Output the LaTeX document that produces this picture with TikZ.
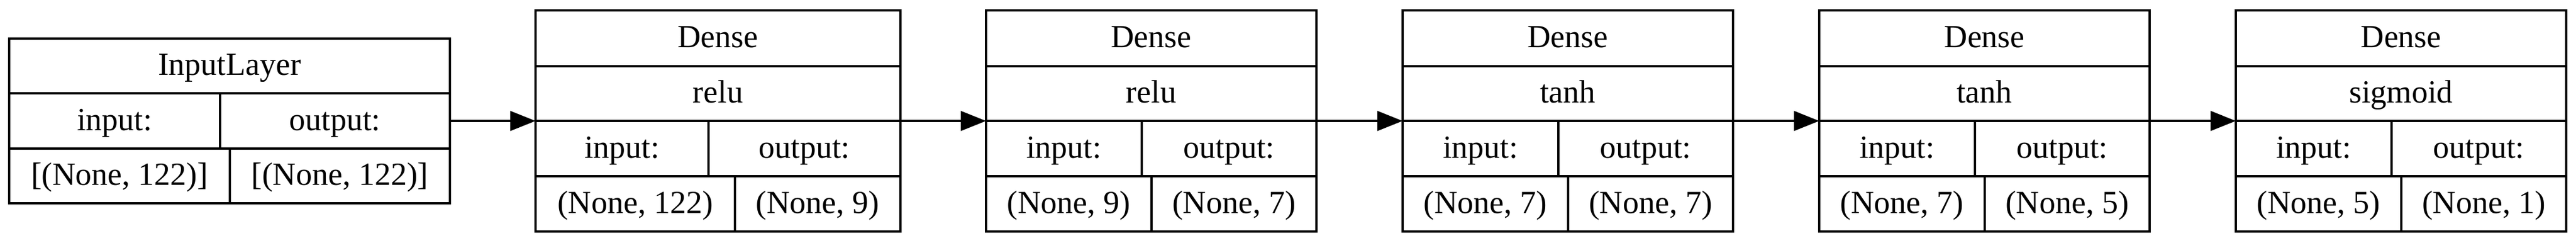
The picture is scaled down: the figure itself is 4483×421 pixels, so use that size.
\documentclass[tikz,border=0pt]{standalone}
\usepackage{fontspec}
\setmainfont{Liberation Serif}
\usetikzlibrary{arrows.meta}
\tikzset{
  x=0.25pt, y=-0.25pt,
  frame/.style={draw=black, line width=1pt, inner sep=0pt, outer sep=0pt, rectangle},
  sepline/.style={draw=black, line width=1pt},
  lbl/.style={anchor=base, inner sep=0pt, font=\fontsize{14pt}{16pt}\selectfont},
  conn/.style={draw=black, line width=1pt, -{Triangle[length=11pt,width=8.5pt]}},
}
\newcommand\mydenselayer[8]{%
  \pgfmathsetmacro\mycx{(#2+#3)/2}%
  \pgfmathsetmacro\mywd{(#3-#2)*0.25}%
  \pgfmathsetmacro\myci{(#2+#4)/2}%
  \pgfmathsetmacro\myco{(#4+#3)/2}%
  \pgfmathsetmacro\myvi{(#2+#5)/2}%
  \pgfmathsetmacro\myvo{(#5+#3)/2}%
  \node[frame, minimum width=\mywd pt, minimum height=96pt] (#1) at (\mycx,210) {};
  \draw[sepline] (#2,115) -- (#3,115) (#2,210) -- (#3,210) (#2,306) -- (#3,306)
    (#4,210) -- (#4,306) (#5,306) -- (#5,402);
  \node[lbl] (#1-type) at (\mycx,82.5) {Dense};
  \node[lbl] (#1-act) at (\mycx,178.5) {#6};
  \node[lbl] (#1-inl) at (\myci,274) {input:};
  \node[lbl] (#1-outl) at (\myco,274) {output:};
  \node[lbl] (#1-inv) at (\myvi,370) {#7};
  \node[lbl] (#1-outv) at (\myvo,370) {#8};
}
\begin{document}
\begin{tikzpicture}
\useasboundingbox (0,0) rectangle (4483,421);
% Input layer
\node[frame, minimum width=191.75pt, minimum height=71.5pt] (inp) at (399.5,210) {};
\draw[sepline] (16,162) -- (783,162) (16,258) -- (783,258)
  (383,162) -- (383,258) (400,258) -- (400,353);
\node[lbl] (inp-type) at (399.5,130.5) {InputLayer};
\node[lbl] (inp-inl) at (199.5,226) {input:};
\node[lbl] (inp-outl) at (583,226) {output:};
\node[lbl] (inp-inv) at (208,321.5) {[(None, 122)]};
\node[lbl] (inp-outv) at (591.5,321.5) {[(None, 122)]};
% Dense layers
\mydenselayer{d1}{932}{1567}{1233}{1279}{relu}{(None, 122)}{(None, 9)}
\mydenselayer{d2}{1716}{2291}{1987}{2004}{relu}{(None, 9)}{(None, 7)}
\mydenselayer{d3}{2441}{3016}{2712}{2729}{tanh}{(None, 7)}{(None, 7)}
\mydenselayer{d4}{3166}{3741}{3437}{3454}{tanh}{(None, 7)}{(None, 5)}
\mydenselayer{d5}{3891}{4466}{4162}{4179}{sigmoid}{(None, 5)}{(None, 1)}
% connectors
\draw[conn] (inp.east) -- (d1.west);
\draw[conn] (d1.east) -- (d2.west);
\draw[conn] (d2.east) -- (d3.west);
\draw[conn] (d3.east) -- (d4.west);
\draw[conn] (d4.east) -- (d5.west);
\end{tikzpicture}
\end{document}
